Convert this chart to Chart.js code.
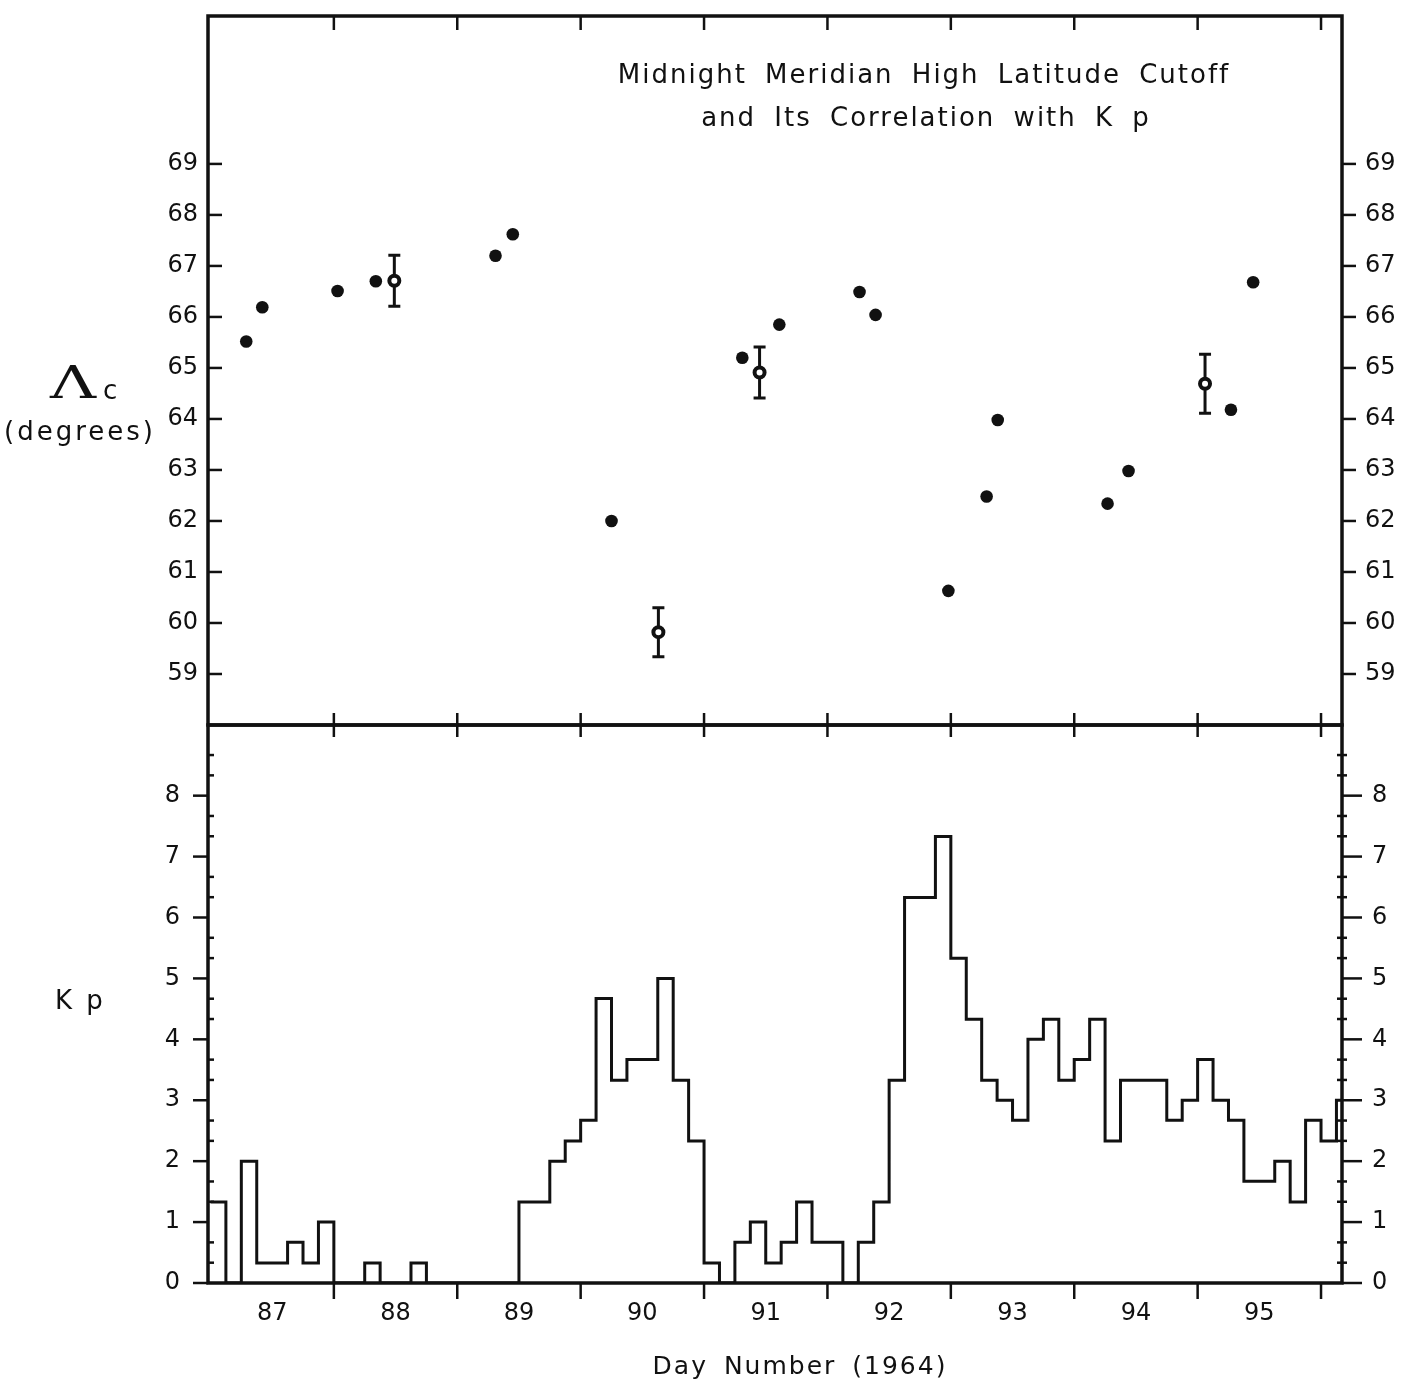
<!DOCTYPE html>
<html>
<head>
<meta charset="utf-8">
<script src="https://cdn.jsdelivr.net/npm/chart.js@4.4.1/dist/chart.umd.min.js"></script>
<style>
  body { margin: 0; background: #fff; width: 1405px; height: 1386px; position: relative; overflow: hidden;
         font-family: "DejaVu Sans", "Liberation Sans", sans-serif; color: #111; }
  canvas { position: absolute; left: 0; }
  .lbl { position: absolute; white-space: nowrap; font-size: 24px; letter-spacing: 2px; line-height: 1; }
  .ctr { text-align: center; }
</style>
</head>
<body>
<canvas id="latChart" width="1405" height="740" style="top:0"></canvas>
<canvas id="kpChart" width="1405" height="686" style="top:700px"></canvas>

<div class="lbl ctr" style="left:524px;width:800px;top:61px;font-size:26px;word-spacing:8px">Midnight Meridian High Latitude Cutoff</div>
<div class="lbl ctr" style="left:526px;width:800px;top:104px;font-size:26px;word-spacing:8px">and Its Correlation with K p</div>
<div class="lbl" style="left:50px;top:361px;font-family:'DejaVu Serif',serif;font-size:44px;letter-spacing:0;transform:scaleX(1.45);transform-origin:left top">Λ</div>
<div class="lbl" style="left:103px;top:377px;font-size:26px">c</div>
<div class="lbl" style="left:4px;top:418px;font-size:26px;letter-spacing:3px">(degrees)</div>
<div class="lbl" style="left:55px;top:987px;font-size:26px;letter-spacing:3px">K p</div>
<div class="lbl ctr" style="left:500px;width:600px;top:1353px;font-size:25px;word-spacing:6px">Day Number (1964)</div>

<script>
// cutoff latitude readings (day number 1964, degrees)
var cutoffDays = [87.29, 87.42, 88.03, 88.34, 89.31, 89.45, 90.25, 91.31, 91.61, 92.26, 92.39, 92.98, 93.29, 93.38, 94.27, 94.44, 95.27, 95.45];
var cutoffLat  = [65.52, 66.19, 66.51, 66.70, 67.20, 67.62, 62.00, 65.20, 65.85, 66.49, 66.04, 60.63, 62.48, 63.98, 62.34, 62.98, 64.18, 66.68];

// readings drawn with error bars
var barDays = [88.49, 90.63, 91.45, 95.06];
var barLat  = [66.71, 59.82, 64.91, 64.69];
var barErr  = [0.50, 0.48, 0.50, 0.58];

// 3-hourly Kp, first interval starts at day 87.0
var kpStart = 87;
var kp = [1.33, 0, 2, 0.33, 0.33, 0.67, 0.33, 1, 0, 0, 0.33, 0, 0, 0.33, 0, 0, 0, 0, 0, 0,
          1.33, 1.33, 2, 2.33, 2.67, 4.67, 3.33, 3.67, 3.67, 5, 3.33, 2.33, 0.33, 0, 0.67, 1, 0.33, 0.67, 1.33, 0.67, 0.67, 0, 0.67, 1.33,
          3.33, 6.33, 6.33, 7.33, 5.33, 4.33, 3.33, 3, 2.67, 4, 4.33, 3.33, 3.67, 4.33, 2.33, 3.33, 3.33, 3.33, 2.67, 3, 3.67, 3, 2.67, 1.67, 1.67, 2, 1.33, 2.67, 2.33, 3];

var latTicks  = [59, 60, 61, 62, 63, 64, 65, 66, 67, 68, 69];
var kpTicks   = [0, 1, 2, 3, 4, 5, 6, 7, 8];
var dayTicks  = [88, 89, 90, 91, 92, 93, 94, 95, 96];
var dayLabels = [87, 88, 89, 90, 91, 92, 93, 94, 95];

var kpMinor = [];
for (var k = 1; k < 27; k++) if (k % 3) kpMinor.push(k / 3);

var INK = '#111';
var tickFont = { family: '"DejaVu Sans", "Liberation Sans", sans-serif', size: 24 };
var dayMin = 86.98, dayMax = 96.17;

// frame round the plot area
var framePlugin = {
	id: 'frame',
	afterDraw: function(chart) {
		var a = chart.chartArea, ctx = chart.ctx;
		ctx.save();
		ctx.strokeStyle = INK;
		ctx.lineWidth = 3.5;
		ctx.strokeRect(a.left, a.top, a.right - a.left, a.bottom - a.top);
		ctx.restore();
	}
};

// tick marks, placed with the chart's own scales
var marksPlugin = {
	id: 'marks',
	afterDraw: function(chart, args, opts) {
		var a = chart.chartArea, ctx = chart.ctx;
		ctx.save();
		ctx.strokeStyle = INK;
		ctx.lineWidth = 2.5;
		opts.list.forEach(function(m) {
			var sc = chart.scales[m.scale];
			m.values.forEach(function(v) {
				var p = sc.getPixelForValue(v);
				ctx.beginPath();
				if (m.edge === 'left' || m.edge === 'right') {
					var x0 = m.edge === 'left' ? a.left : a.right;
					ctx.moveTo(x0 + m.from, p);
					ctx.lineTo(x0 + m.to, p);
				} else {
					var y0 = m.edge === 'top' ? a.top : a.bottom;
					ctx.moveTo(p, y0 + m.from);
					ctx.lineTo(p, y0 + m.to);
				}
				ctx.stroke();
			});
		});
		ctx.restore();
	}
};

var errorPlugin = {
	id: 'errorBars',
	beforeDatasetsDraw: function(chart) {
		var ctx = chart.ctx, xs = chart.scales.x, ys = chart.scales.y;
		ctx.save();
		ctx.strokeStyle = INK;
		ctx.lineWidth = 3;
		for (var i = 0; i < barDays.length; i++) {
			var x = xs.getPixelForValue(barDays[i]);
			var top = ys.getPixelForValue(barLat[i] + barErr[i]);
			var bot = ys.getPixelForValue(barLat[i] - barErr[i]);
			ctx.beginPath();
			ctx.moveTo(x, top); ctx.lineTo(x, bot);
			ctx.moveTo(x - 6, top); ctx.lineTo(x + 6, top);
			ctx.moveTo(x - 6, bot); ctx.lineTo(x + 6, bot);
			ctx.stroke();
		}
		ctx.restore();
	}
};

function fixedY(width) {
	return function(axis) {
		axis.width = width;
		axis.paddingTop = 0;
		axis.paddingBottom = 0;
	};
}

function yAxis(pos, min, max, ticks, width, pad) {
	return {
		type: 'linear',
		position: pos,
		min: min,
		max: max,
		afterBuildTicks: function(axis) { axis.ticks = ticks.map(function(v) { return { value: v }; }); },
		afterFit: fixedY(width),
		grid: { display: false, drawTicks: false },
		border: { display: false },
		ticks: { font: tickFont, color: INK, padding: pad }
	};
}

// top panel: cutoff latitude
new Chart(document.getElementById('latChart'), {
	type: 'scatter',
	data: {
		datasets: [{
			data: cutoffDays.map(function(d, i) { return { x: d, y: cutoffLat[i] }; }),
			pointRadius: 6.3,
			pointBorderWidth: 0,
			pointBackgroundColor: INK
		}, {
			data: barDays.map(function(d, i) { return { x: d, y: barLat[i] }; }),
			pointRadius: 5,
			pointBorderWidth: 4,
			pointBorderColor: INK,
			pointBackgroundColor: '#fff'
		}]
	},
	options: {
		responsive: false,
		animation: false,
		events: [],
		layout: { padding: { left: 148, right: 0, top: 16, bottom: 15 } },
		plugins: {
			legend: { display: false },
			tooltip: { enabled: false },
			marks: { list: [
				{ scale: 'y', edge: 'left', values: latTicks, from: 0, to: 14 },
				{ scale: 'y2', edge: 'right', values: latTicks, from: 0, to: 14 },
				{ scale: 'x', edge: 'top', values: dayTicks, from: 0, to: 14 },
				{ scale: 'x', edge: 'bottom', values: dayTicks, from: -12, to: 12 }
			] }
		},
		scales: {
			x: { type: 'linear', min: dayMin, max: dayMax, display: false },
			y: yAxis('left', 58, 71.9, latTicks, 60, 10),
			y2: yAxis('right', 58, 71.9, latTicks, 63, 23)
		}
	},
	plugins: [errorPlugin, framePlugin, marksPlugin]
});

// bottom panel: Kp steps
var kpPoints = kp.map(function(v, i) { return { x: kpStart + i / 8, y: v }; });
kpPoints.push({ x: kpStart + kp.length / 8, y: kp[kp.length - 1] });

new Chart(document.getElementById('kpChart'), {
	type: 'line',
	data: {
		datasets: [{
			data: kpPoints,
			stepped: true,
			borderColor: INK,
			borderWidth: 3,
			pointRadius: 0,
			fill: false
		}]
	},
	options: {
		responsive: false,
		animation: false,
		events: [],
		layout: { padding: { left: 148, right: 0, top: 25, bottom: 43 } },
		plugins: {
			legend: { display: false },
			tooltip: { enabled: false },
			marks: { list: [
				{ scale: 'y', edge: 'left', values: kpTicks, from: -15, to: 0 },
				{ scale: 'y', edge: 'left', values: kpMinor, from: 0, to: 6 },
				{ scale: 'y2', edge: 'right', values: kpTicks, from: 0, to: 20 },
				{ scale: 'y2', edge: 'right', values: kpMinor, from: -5, to: 5 },
				{ scale: 'x', edge: 'bottom', values: dayTicks, from: 0, to: 16 }
			] }
		},
		scales: {
			x: {
				type: 'linear',
				min: dayMin,
				max: dayMax,
				afterBuildTicks: function(axis) { axis.ticks = dayLabels.map(function(d) { return { value: d + 0.5 }; }); },
				afterFit: function(axis) { axis.height = 60; },
				grid: { display: false, drawTicks: false },
				border: { display: false },
				ticks: { font: tickFont, color: INK, padding: 16, maxRotation: 0, autoSkip: false,
					callback: function(v) { return String(Math.floor(v)); } }
			},
			y: yAxis('left', 0, 9.16, kpTicks, 60, 28),
			y2: yAxis('right', 0, 9.16, kpTicks, 63, 30)
		}
	},
	plugins: [framePlugin, marksPlugin]
});
</script>
</body>
</html>
